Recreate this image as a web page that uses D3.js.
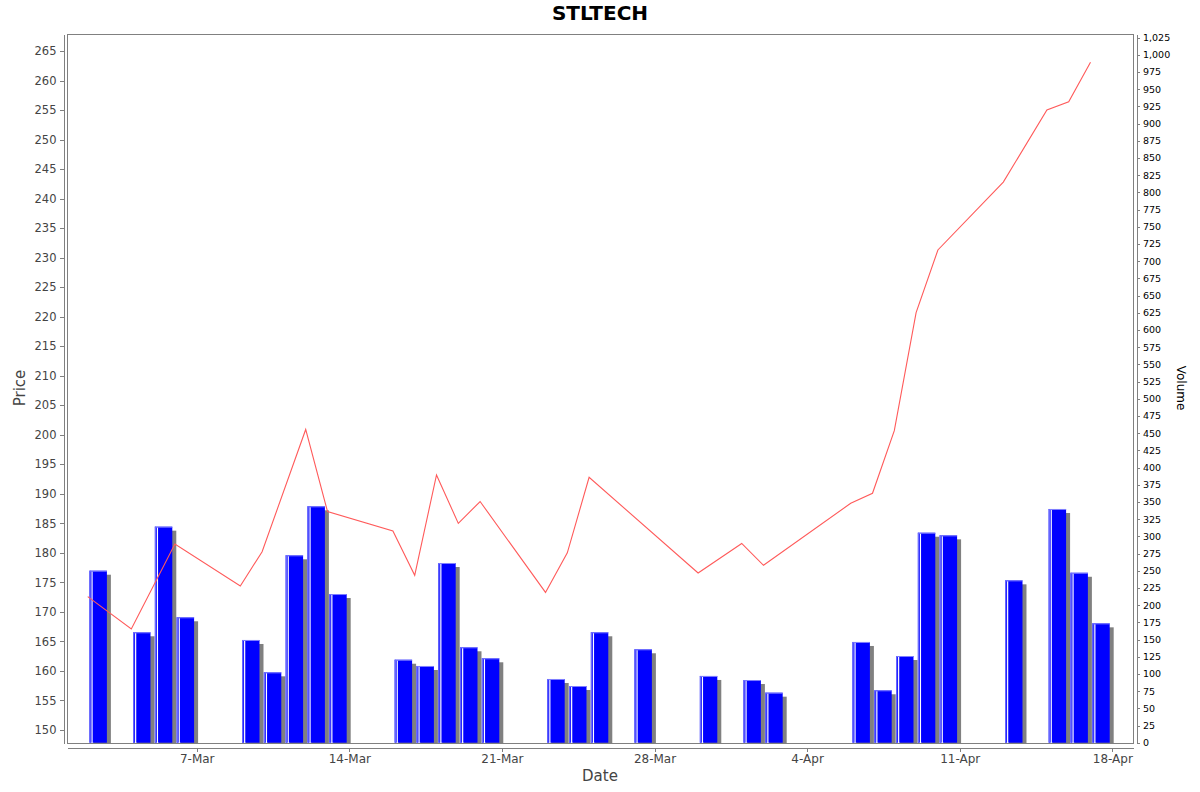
<!DOCTYPE html>
<html>
<head>
<meta charset="utf-8">
<title>STLTECH</title>
<script src="https://cdn.jsdelivr.net/npm/d3@7"></script>
<style>
body { margin: 0; background: #fff; }
svg text { font-family: "DejaVu Sans", sans-serif; }
.axis path, .axis line { stroke: #808080; shape-rendering: crispEdges; }
</style>
</head>
<body>
<div id="chart"></div>
<script>
// closing price (line) and traded volume (bars)
var priceDates = ["2020-03-02","2020-03-04","2020-03-06","2020-03-09","2020-03-10","2020-03-12","2020-03-13",
  "2020-03-16","2020-03-17","2020-03-18","2020-03-19","2020-03-20","2020-03-23","2020-03-24","2020-03-25",
  "2020-03-30","2020-04-01","2020-04-02","2020-04-06","2020-04-07","2020-04-08","2020-04-09","2020-04-10",
  "2020-04-13","2020-04-15","2020-04-16","2020-04-17"];
var prices = [172.6,167.1,181.5,174.4,180.2,200.9,187.0,
  183.7,176.2,193.2,185.0,188.7,173.3,180.0,192.8,
  176.6,181.6,177.9,188.4,190.1,200.7,220.7,231.3,
  242.8,255.0,256.4,263.1];

var volumeDates = ["2020-03-02","2020-03-04","2020-03-05","2020-03-06","2020-03-09","2020-03-10","2020-03-11",
  "2020-03-12","2020-03-13","2020-03-16","2020-03-17","2020-03-18","2020-03-19","2020-03-20","2020-03-23",
  "2020-03-24","2020-03-25","2020-03-27","2020-03-30","2020-04-01","2020-04-02","2020-04-06","2020-04-07",
  "2020-04-08","2020-04-09","2020-04-10","2020-04-13","2020-04-15","2020-04-16","2020-04-17"];
var volumes = [250,160.5,314,182.3,149.3,102.3,272.4,
  343.6,216.1,120.6,111.5,261.2,138.7,122.7,92.6,
  82.4,160.5,135.8,97,91.1,72.7,146.4,76.2,
  126,305.2,301.4,236,339.7,247,173.5];

var priceTicks = d3.range(150, 266, 5);
var volumeTicks = d3.range(0, 1026, 25);

var W = 1200, H = 792,
    pLeft = 67, pRight = 1133.3, pTop = 34, pBottom = 743;

var parse = d3.utcParse("%Y-%m-%d"),
    DAY = 864e5;

var x = d3.scaleUtc()
    .domain([new Date(+parse("2020-03-01") + 0.05 * DAY), new Date(+parse("2020-04-18") + 0.963 * DAY)])
    .range([pLeft, pRight]);
var yP = d3.scaleLinear().domain([147.8, 267.88]).range([pBottom, pTop]);
var yV = d3.scaleLinear().domain([0, 1030.1]).range([742.7, pTop]);

var svg = d3.select("#chart").append("svg")
    .attr("width", W).attr("height", H);

svg.append("defs").append("clipPath").attr("id", "plot")
  .append("rect").attr("x", pLeft).attr("y", pTop).attr("width", pRight - pLeft).attr("height", pBottom - pTop);

var plot = svg.append("g").attr("clip-path", "url(#plot)");

var bars = volumeDates.map(function(d, i) {
  var t = parse(d);
  return { x0: x(t), x1: x(new Date(+t + DAY)), v: volumes[i] };
});

// each bar: shadow first, then the bar, so the next bar sits over the previous shadow
bars.forEach(function(b) {
  var w = b.x1 - b.x0, xa = b.x0 + w * 0.08, xb = b.x1 - w * 0.12,
      yt = yV(b.v), yb = yV(0);
  plot.append("rect").attr("x", xa + 4).attr("y", yt + 4)
    .attr("width", xb - xa).attr("height", Math.max(0, yb - yt)).attr("fill", "#808080");
  plot.append("rect").attr("x", xa).attr("y", yt)
    .attr("width", xb - xa).attr("height", yb - yt).attr("fill", "#0000ff");
  plot.append("rect").attr("x", xa).attr("y", yt)
    .attr("width", xb - xa).attr("height", 1).attr("fill", "#7f7fff");
  plot.append("rect").attr("x", xa).attr("y", yt)
    .attr("width", 1.3).attr("height", yb - yt).attr("fill", "#6a6aff");
  plot.append("rect").attr("x", xa + 2).attr("y", yt + 1)
    .attr("width", 1.2).attr("height", yb - yt).attr("fill", "#ffffff");
});

var line = d3.line()
    .x(function(d, i) { return x(parse(d)); })
    .y(function(d, i) { return yP(prices[i]); });

plot.append("path").datum(priceDates)
    .attr("d", line)
    .attr("fill", "none")
    .attr("stroke", "#ff5a5a")
    .attr("stroke-width", 1.1);

// plot outline
svg.append("rect").attr("x", pLeft).attr("y", pTop)
    .attr("width", pRight - pLeft).attr("height", pBottom - pTop)
    .attr("fill", "none").attr("stroke", "#808080").attr("shape-rendering", "crispEdges");

// axes
var gl = svg.append("g").attr("class", "axis").attr("transform", "translate(63.5,0)")
    .call(d3.axisLeft(yP).tickValues(priceTicks).tickSize(4).tickSizeOuter(0).tickPadding(3));
gl.selectAll("text").attr("fill", "#444").style("font-size", "11.5px");

var gr = svg.append("g").attr("class", "axis").attr("transform", "translate(1137,0)")
    .call(d3.axisRight(yV).tickValues(volumeTicks).tickFormat(d3.format(",")).tickSize(3).tickSizeOuter(0).tickPadding(3));
gr.selectAll("text").attr("fill", "#000").style("font-size", "9.5px");

var gb = svg.append("g").attr("class", "axis").attr("transform", "translate(0,747.5)")
    .call(d3.axisBottom(x).ticks(d3.utcSaturday.every(1)).tickFormat(d3.utcFormat("%-d-%b"))
      .tickSize(4).tickSizeOuter(0).tickPadding(3));
gb.selectAll("text").attr("fill", "#444").style("font-size", "12px");

// titles
svg.append("text").attr("x", 600).attr("y", 20).attr("text-anchor", "middle")
    .style("font-size", "20px").style("font-weight", "bold").text("STLTECH");

svg.append("text").attr("transform", "translate(25,388) rotate(-90)").attr("text-anchor", "middle")
    .attr("fill", "#444").style("font-size", "15px").text("Price");

svg.append("text").attr("x", 600).attr("y", 781).attr("text-anchor", "middle")
    .attr("fill", "#444").style("font-size", "15px").text("Date");

svg.append("text").attr("transform", "translate(1177,388) rotate(90)").attr("text-anchor", "middle")
    .attr("fill", "#000").style("font-size", "12px").text("Volume");
</script>
</body>
</html>
